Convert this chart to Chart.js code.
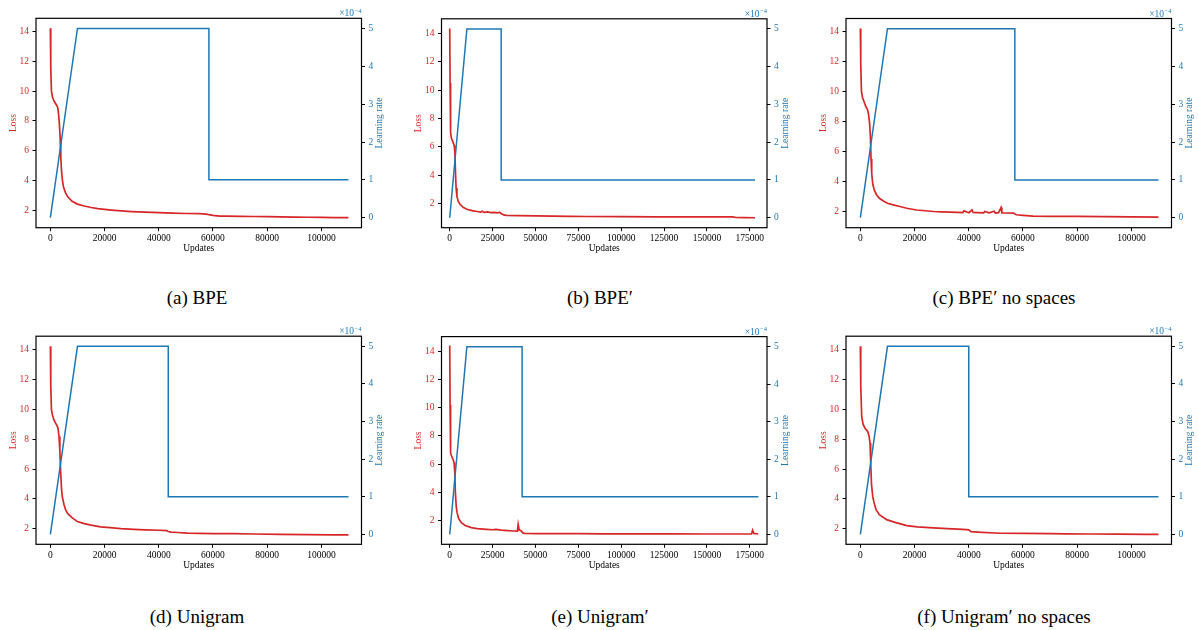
<!DOCTYPE html>
<html><head><meta charset="utf-8">
<script src="https://cdn.jsdelivr.net/npm/chart.js@4.4.1/dist/chart.umd.min.js"></script>
<style>
html,body{margin:0;padding:0;background:#fff;overflow:hidden;width:1198px;height:630px;}
canvas{position:absolute;}
.cap{position:absolute;font-family:"Liberation Serif";font-size:19px;color:#000;white-space:nowrap;transform:translate(-50%,-50%);}
</style></head><body>
<script>
// ---------- tick labels ----------
const xTicksShort = [0, 20000, 40000, 60000, 80000, 100000];
const xTicksLong = [0, 25000, 50000, 75000, 100000, 125000, 150000, 175000];
const lossTicks = [2, 4, 6, 8, 10, 12, 14];
const lrTicks = [0, 1e-4, 2e-4, 3e-4, 4e-4, 5e-4];
const captions = ["(a) BPE", "(b) BPE\u2032", "(c) BPE\u2032 no spaces", "(d) Unigram", "(e) Unigram\u2032", "(f) Unigram\u2032 no spaces"];

// ---------- (a) BPE ----------
const aUpdates = [0,150,400,800,1300,1800,2300,2700,3000,3300,3600,3850,4100,4400,4800,5600,6500,8000,10000,12500,15000,17500,20000,22500,25000,30000,35000,40000,45000,50000,55000,57500,58500,60000,62500,65000,70000,75000,80000,85000,90000,95000,100000,105000,110000];
const aLoss = [14.2,11.5,10.0,9.6,9.35,9.2,9.05,8.9,8.5,7.9,6.9,5.6,4.7,4.1,3.6,3.18,2.9,2.62,2.43,2.3,2.2,2.13,2.08,2.03,1.99,1.93,1.89,1.86,1.82,1.8,1.79,1.76,1.72,1.67,1.63,1.62,1.61,1.6,1.59,1.57,1.56,1.55,1.54,1.53,1.52];
const aLrUpdates = [0,10000,58500,58500,110000];
const aLr = [0,5e-4,5e-4,1e-4,1e-4];

// ---------- (b) BPE' ----------
const bUpdates = [0,200,500,1000,2000,2600,3000,3300,3700,4200,5000,6000,8000,10000,13000,16000,18000,19000,20000,22000,24000,26000,28000,29000,30000,31500,33000,40000,50000,60000,70000,80000,100000,120000,140000,155000,165000,167000,172000,178000];
const bLoss = [14.35,10.5,7.0,6.6,6.3,6.1,5.6,4.4,3.1,2.5,2.15,1.95,1.72,1.6,1.5,1.44,1.4,1.46,1.38,1.41,1.36,1.38,1.34,1.39,1.3,1.2,1.17,1.15,1.13,1.12,1.1,1.09,1.08,1.07,1.07,1.06,1.06,1.02,1.01,1.0];
const bLrUpdates = [0,10000,30000,30000,178000];
const bLr = [0,5e-4,5e-4,1e-4,1e-4];

// ---------- (c) BPE' no spaces ----------
const cUpdates = [0,150,400,800,1300,2000,2600,3000,3400,3700,3950,4200,4600,5200,6000,7000,8500,10000,12500,14600,17500,20800,24000,27000,30000,33000,36000,37800,38200,40000,41200,41600,43000,45500,45900,47500,49400,49800,51000,51900,52200,54000,56500,57500,60000,63700,70000,80000,90000,100000,110000];
const cLoss = [14.2,11.8,10.0,9.6,9.35,9.0,8.8,8.5,7.9,7.0,5.5,4.5,3.8,3.4,3.1,2.88,2.7,2.55,2.42,2.33,2.2,2.1,2.05,2.0,1.98,1.96,1.94,1.93,2.05,1.92,2.1,1.93,1.92,1.91,2.0,1.91,2.02,1.9,1.92,2.26,1.91,1.9,1.89,1.78,1.74,1.69,1.68,1.67,1.66,1.64,1.62];
const cLrUpdates = [0,10000,57000,57000,110000];
const cLr = [0,5e-4,5e-4,1e-4,1e-4];

// ---------- (d) Unigram ----------
const dUpdates = [0,150,400,800,1300,1800,2300,2800,3200,3500,3800,4100,4400,5000,5640,6500,8000,9950,12500,15000,18500,22000,26000,30800,35000,40000,43000,43500,44500,47000,50500,55000,60000,67700,75000,85000,95000,104500,110000];
const dLoss = [14.2,11.6,9.95,9.6,9.3,9.1,8.95,8.75,8.17,7.2,5.8,4.7,4.16,3.65,3.27,3.0,2.75,2.49,2.35,2.25,2.14,2.08,2.02,1.97,1.94,1.91,1.89,1.82,1.78,1.76,1.72,1.7,1.69,1.68,1.66,1.64,1.62,1.6,1.6];
const dLrUpdates = [0,10000,43500,43500,110000];
const dLr = [0,5e-4,5e-4,1e-4,1e-4];

// ---------- (e) Unigram' ----------
const eUpdates = [0,200,500,1000,1950,2530,2900,3300,3800,4300,5200,6800,9000,12600,16000,21400,25000,27000,30000,34000,37000,39500,39900,40500,41500,42800,44000,50000,60000,75000,90000,110000,130000,150000,170000,176000,176600,177300,179900];
const eLoss = [14.4,10.2,6.8,6.6,6.33,6.1,5.5,4.0,3.0,2.57,2.15,1.86,1.66,1.51,1.44,1.39,1.36,1.39,1.33,1.3,1.27,1.26,1.74,1.35,1.3,1.12,1.1,1.09,1.08,1.08,1.07,1.07,1.07,1.06,1.06,1.06,1.32,1.1,1.06];
const eLrUpdates = [0,10000,42200,42200,180000];
const eLr = [0,5e-4,5e-4,1e-4,1e-4];

// ---------- (f) Unigram' no spaces ----------
const fUpdates = [0,150,500,1000,1730,2700,3200,3570,3800,4100,4560,5000,5780,7000,9700,12500,17100,21000,26900,32000,36000,39200,40000,40800,45000,51500,60000,70000,76000,85000,95000,105000,110000];
const fLoss = [14.2,11.5,9.51,9.0,8.73,8.51,8.2,7.73,6.5,5.0,4.17,3.8,3.29,2.95,2.62,2.45,2.22,2.14,2.07,2.02,1.98,1.95,1.94,1.82,1.77,1.71,1.7,1.68,1.67,1.66,1.65,1.64,1.63];
const fLrUpdates = [0,10000,40000,40000,110000];
const fLr = [0,5e-4,5e-4,1e-4,1e-4];

// ---------- styling / layout ----------
const RED = '#d62728', BLUE = '#1f77b4';
const FONT = '"Liberation Serif", serif';
const FS = 9.5;
Chart.defaults.font.family = FONT;
Chart.defaults.font.size = FS;

const panels = [
  {u:aUpdates, l:aLoss, lu:aLrUpdates, lr:aLr, xt:xTicksShort, xmin:-5300, xmax:114800, lmin:0.85, lmax:14.87, L:36,    R:361.5,  T:18.3,  B:227.7, capY:298},
  {u:bUpdates, l:bLoss, lu:bLrUpdates, lr:bLr, xt:xTicksLong,  xmin:-4800, xmax:185000, lmin:0.30, lmax:15.03, L:441.5, R:767,    T:18.8,  B:227.7, capY:298},
  {u:cUpdates, l:cLoss, lu:cLrUpdates, lr:cLr, xt:xTicksShort, xmin:-5300, xmax:114800, lmin:0.92, lmax:14.86, L:846,   R:1171.5, T:18.5,  B:227.7, capY:298},
  {u:dUpdates, l:dLoss, lu:dLrUpdates, lr:dLr, xt:xTicksShort, xmin:-5300, xmax:114800, lmin:0.97, lmax:14.88, L:36,    R:361.5,  T:336.2, B:544.3, capY:617},
  {u:eUpdates, l:eLoss, lu:eLrUpdates, lr:eLr, xt:xTicksLong,  xmin:-4800, xmax:185000, lmin:0.33, lmax:15.03, L:441.5, R:767,    T:336.6, B:544.3, capY:617},
  {u:fUpdates, l:fLoss, lu:fLrUpdates, lr:fLr, xt:xTicksShort, xmin:-5300, xmax:114800, lmin:0.97, lmax:14.88, L:846,   R:1171.5, T:336.2, B:544.3, capY:617},
];
const capX = [197, 600, 1004];

const extras = {
  id: 'extras',
  afterDraw(chart) {
    const {ctx, chartArea: {left, right, top, bottom}} = chart;
    ctx.save();
    ctx.strokeStyle = '#000';
    ctx.lineWidth = 1.2;
    ctx.strokeRect(left, top, right - left, bottom - top);
    ctx.fillStyle = BLUE;
    ctx.font = FS + 'px ' + FONT;
    ctx.textAlign = 'center';
    ctx.textBaseline = 'middle';
    ctx.translate(right + 18, (top + bottom) / 2);
    ctx.rotate(-Math.PI / 2);
    ctx.fillText('Learning rate', 0, 0);
    ctx.restore();
    ctx.save();
    ctx.fillStyle = BLUE;
    ctx.textBaseline = 'alphabetic';
    ctx.textAlign = 'right';
    ctx.font = '6.5px ' + FONT;
    const sup = '\u22124';
    const sw = ctx.measureText(sup).width;
    ctx.fillText(sup, right, top - 5.5);
    ctx.font = FS + 'px ' + FONT;
    ctx.fillText('\u00d710', right - sw - 0.5, top - 2);
    ctx.restore();
  }
};

panels.forEach((p, i) => {
  const X0 = Math.floor(p.L - 36);
  const Y0 = Math.floor(p.T - 18);
  const W = Math.ceil(p.R + 26) - X0;
  const H = Math.ceil(p.B + 32.5) - Y0;
  const cv = document.createElement('canvas');
  cv.width = W; cv.height = H;
  cv.style.left = X0 + 'px'; cv.style.top = Y0 + 'px';
  cv.style.width = W + 'px'; cv.style.height = H + 'px';
  document.body.appendChild(cv);

  const leftW = p.L - X0;
  const rightW = 26;
  const bottomH = 32.5;
  const padTop = p.T - Y0;
  const padRight = W - (p.R - X0) - rightW;
  const padBottom = H - (p.B - Y0) - bottomH;
  const half = FS * 1.2 / 2;

  const cap = document.createElement('div');
  cap.className = 'cap';
  cap.textContent = captions[i];
  cap.style.left = capX[i % 3] + 'px';
  cap.style.top = p.capY + 'px';
  document.body.appendChild(cap);

  new Chart(cv, {
    type: 'line',
    data: {
      datasets: [
        {label: 'Learning rate', data: p.lu.map((u, k) => ({x: u, y: p.lr[k]})), yAxisID: 'y2',
         borderColor: BLUE, borderWidth: 1.5, pointRadius: 0, tension: 0, fill: false},
        {label: 'Loss', data: p.u.map((u, k) => ({x: u, y: p.l[k]})), yAxisID: 'y',
         borderColor: RED, borderWidth: 1.7, pointRadius: 0, tension: 0, fill: false},
      ]
    },
    options: {
      responsive: false, animation: false, devicePixelRatio: 1,
      layout: {padding: {top: padTop, left: 0, right: padRight, bottom: padBottom}},
      plugins: {legend: {display: false}, tooltip: {enabled: false}},
      scales: {
        x: {
          type: 'linear', position: 'bottom', min: p.xmin, max: p.xmax,
          afterBuildTicks: s => { s.ticks = p.xt.map(v => ({value: v})); },
          afterFit: s => { s.height = bottomH; },
          ticks: {color: '#000', padding: 1.5, maxRotation: 0, autoSkip: false, callback: v => String(v)},
          grid: {drawOnChartArea: false, tickLength: 3.5, tickColor: '#000', tickWidth: 1},
          border: {display: false},
          title: {display: true, text: 'Updates', color: '#000', padding: {top: 0, bottom: bottomH - 21 - half}}
        },
        y: {
          type: 'linear', position: 'left', min: p.lmin, max: p.lmax,
          afterBuildTicks: s => { s.ticks = lossTicks.map(v => ({value: v})); },
          afterFit: s => { s.width = leftW; },
          ticks: {color: RED, padding: 3.5, callback: v => String(v)},
          grid: {drawOnChartArea: false, tickLength: 3.5, tickColor: '#000', tickWidth: 1},
          border: {display: false},
          title: {display: true, text: 'Loss', color: RED, padding: {top: (leftW - 22.7) - half, bottom: 0}}
        },
        y2: {
          type: 'linear', position: 'right', min: -0.265e-4, max: 5.27e-4,
          afterBuildTicks: s => { s.ticks = lrTicks.map(v => ({value: v})); },
          afterFit: s => { s.width = rightW; },
          ticks: {color: BLUE, padding: 3.5, callback: v => String(Math.round(v * 1e4))},
          grid: {drawOnChartArea: false, tickLength: 3.5, tickColor: '#000', tickWidth: 1},
          border: {display: false}
        }
      }
    },
    plugins: [extras]
  });
});
</script>
</body></html>
